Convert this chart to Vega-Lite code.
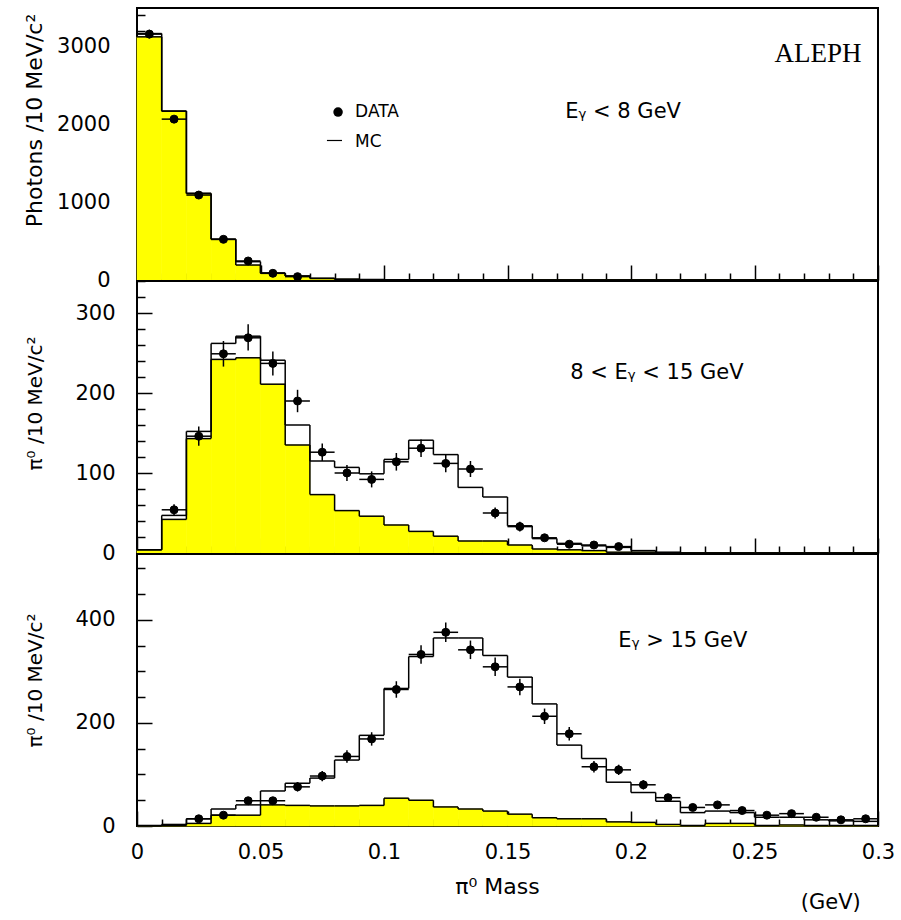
{
  "$schema": "https://vega.github.io/schema/vega-lite/v6.json",
  "padding": {"left": 21, "top": 7, "right": 5, "bottom": 5},
  "background": "white",
  "datasets": {
    "top": [
      {"x0":0,"x1":0.01,"xc":0.005,"bg":3120,"mc":3162,"d":3155,"lo":3099,"hi":3211},
      {"x0":0.01,"x1":0.02,"xc":0.015,"bg":2167,"mc":2167,"d":2064,"lo":2019,"hi":2109},
      {"x0":0.02,"x1":0.03,"xc":0.025,"bg":1111,"mc":1111,"d":1090,"lo":1057,"hi":1123},
      {"x0":0.03,"x1":0.04,"xc":0.035,"bg":522,"mc":522,"d":522,"lo":499,"hi":545},
      {"x0":0.04,"x1":0.05,"xc":0.045,"bg":192,"mc":235,"d":244,"lo":228,"hi":260},
      {"x0":0.05,"x1":0.06,"xc":0.055,"bg":86,"mc":90,"d":86,"lo":77,"hi":95},
      {"x0":0.06,"x1":0.07,"xc":0.065,"bg":51,"mc":51,"d":43,"lo":36,"hi":50},
      {"x0":0.07,"x1":0.08,"xc":0.075,"bg":21,"mc":21},
      {"x0":0.08,"x1":0.09,"xc":0.085,"bg":9,"mc":10},
      {"x0":0.09,"x1":0.1,"xc":0.095,"bg":5,"mc":5},
      {"x0":0.1,"x1":0.11,"xc":0.105,"bg":3,"mc":3},
      {"x0":0.11,"x1":0.12,"xc":0.115,"bg":2,"mc":2},
      {"x0":0.12,"x1":0.13,"xc":0.125,"bg":2,"mc":2},
      {"x0":0.13,"x1":0.14,"xc":0.135,"bg":1,"mc":1},
      {"x0":0.14,"x1":0.15,"xc":0.145,"bg":1,"mc":1},
      {"x0":0.15,"x1":0.16,"xc":0.155,"bg":0,"mc":0},
      {"x0":0.16,"x1":0.17,"xc":0.165,"bg":0,"mc":0},
      {"x0":0.17,"x1":0.18,"xc":0.175,"bg":0,"mc":0},
      {"x0":0.18,"x1":0.19,"xc":0.185,"bg":0,"mc":0},
      {"x0":0.19,"x1":0.2,"xc":0.195,"bg":0,"mc":0},
      {"x0":0.2,"x1":0.21,"xc":0.205,"bg":0,"mc":0},
      {"x0":0.21,"x1":0.22,"xc":0.215,"bg":0,"mc":0},
      {"x0":0.22,"x1":0.23,"xc":0.225,"bg":0,"mc":0},
      {"x0":0.23,"x1":0.24,"xc":0.235,"bg":0,"mc":0},
      {"x0":0.24,"x1":0.25,"xc":0.245,"bg":0,"mc":0},
      {"x0":0.25,"x1":0.26,"xc":0.255,"bg":0,"mc":0},
      {"x0":0.26,"x1":0.27,"xc":0.265,"bg":0,"mc":0},
      {"x0":0.27,"x1":0.28,"xc":0.275,"bg":0,"mc":0},
      {"x0":0.28,"x1":0.29,"xc":0.285,"bg":0,"mc":0},
      {"x0":0.29,"x1":0.3,"xc":0.295,"bg":0,"mc":0}
    ],
    "mid": [
      {"x0":0,"x1":0.01,"xc":0.005,"bg":4,"mc":4},
      {"x0":0.01,"x1":0.02,"xc":0.015,"bg":42,"mc":47,"d":54,"lo":47,"hi":61},
      {"x0":0.02,"x1":0.03,"xc":0.025,"bg":143,"mc":152,"d":146,"lo":134,"hi":158},
      {"x0":0.03,"x1":0.04,"xc":0.035,"bg":242,"mc":262,"d":249,"lo":233,"hi":265},
      {"x0":0.04,"x1":0.05,"xc":0.045,"bg":244,"mc":271,"d":269,"lo":253,"hi":286},
      {"x0":0.05,"x1":0.06,"xc":0.055,"bg":211,"mc":241,"d":237,"lo":222,"hi":252},
      {"x0":0.06,"x1":0.07,"xc":0.065,"bg":135,"mc":160,"d":190,"lo":176,"hi":204},
      {"x0":0.07,"x1":0.08,"xc":0.075,"bg":73,"mc":115,"d":126,"lo":115,"hi":137},
      {"x0":0.08,"x1":0.09,"xc":0.085,"bg":53,"mc":107,"d":100,"lo":90,"hi":110},
      {"x0":0.09,"x1":0.1,"xc":0.095,"bg":46,"mc":99,"d":92,"lo":82,"hi":102},
      {"x0":0.1,"x1":0.11,"xc":0.105,"bg":35,"mc":117,"d":114,"lo":103,"hi":125},
      {"x0":0.11,"x1":0.12,"xc":0.115,"bg":27,"mc":141,"d":131,"lo":120,"hi":142},
      {"x0":0.12,"x1":0.13,"xc":0.125,"bg":21,"mc":123,"d":112,"lo":101,"hi":123},
      {"x0":0.13,"x1":0.14,"xc":0.135,"bg":15,"mc":82,"d":105,"lo":95,"hi":115},
      {"x0":0.14,"x1":0.15,"xc":0.145,"bg":15,"mc":70,"d":50,"lo":43,"hi":57},
      {"x0":0.15,"x1":0.16,"xc":0.155,"bg":10,"mc":34,"d":33,"lo":27,"hi":39},
      {"x0":0.16,"x1":0.17,"xc":0.165,"bg":5,"mc":18,"d":19,"lo":15,"hi":23},
      {"x0":0.17,"x1":0.18,"xc":0.175,"bg":4,"mc":12,"d":11,"lo":8,"hi":14},
      {"x0":0.18,"x1":0.19,"xc":0.185,"bg":3,"mc":9,"d":10,"lo":7,"hi":13},
      {"x0":0.19,"x1":0.2,"xc":0.195,"bg":1,"mc":7,"d":8,"lo":5,"hi":11},
      {"x0":0.2,"x1":0.21,"xc":0.205,"bg":1,"mc":3},
      {"x0":0.21,"x1":0.22,"xc":0.215,"bg":0,"mc":1},
      {"x0":0.22,"x1":0.23,"xc":0.225,"bg":0,"mc":0},
      {"x0":0.23,"x1":0.24,"xc":0.235,"bg":0,"mc":0},
      {"x0":0.24,"x1":0.25,"xc":0.245,"bg":0,"mc":0},
      {"x0":0.25,"x1":0.26,"xc":0.255,"bg":0,"mc":0},
      {"x0":0.26,"x1":0.27,"xc":0.265,"bg":0,"mc":0},
      {"x0":0.27,"x1":0.28,"xc":0.275,"bg":0,"mc":0},
      {"x0":0.28,"x1":0.29,"xc":0.285,"bg":0,"mc":0},
      {"x0":0.29,"x1":0.3,"xc":0.295,"bg":0,"mc":0}
    ],
    "bot": [
      {"x0":0,"x1":0.01,"xc":0.005,"bg":0,"mc":1},
      {"x0":0.01,"x1":0.02,"xc":0.015,"bg":1,"mc":3},
      {"x0":0.02,"x1":0.03,"xc":0.025,"bg":5,"mc":14,"d":14,"lo":10,"hi":18},
      {"x0":0.03,"x1":0.04,"xc":0.035,"bg":21,"mc":33,"d":21,"lo":16,"hi":26},
      {"x0":0.04,"x1":0.05,"xc":0.045,"bg":21,"mc":41,"d":49,"lo":42,"hi":56},
      {"x0":0.05,"x1":0.06,"xc":0.055,"bg":41,"mc":68,"d":49,"lo":42,"hi":56},
      {"x0":0.06,"x1":0.07,"xc":0.065,"bg":40,"mc":83,"d":76,"lo":67,"hi":85},
      {"x0":0.07,"x1":0.08,"xc":0.075,"bg":39,"mc":93,"d":97,"lo":87,"hi":107},
      {"x0":0.08,"x1":0.09,"xc":0.085,"bg":39,"mc":128,"d":135,"lo":123,"hi":147},
      {"x0":0.09,"x1":0.1,"xc":0.095,"bg":40,"mc":176,"d":169,"lo":156,"hi":182},
      {"x0":0.1,"x1":0.11,"xc":0.105,"bg":54,"mc":267,"d":265,"lo":249,"hi":281},
      {"x0":0.11,"x1":0.12,"xc":0.115,"bg":50,"mc":329,"d":333,"lo":315,"hi":351},
      {"x0":0.12,"x1":0.13,"xc":0.125,"bg":37,"mc":365,"d":376,"lo":357,"hi":395},
      {"x0":0.13,"x1":0.14,"xc":0.135,"bg":33,"mc":365,"d":342,"lo":324,"hi":360},
      {"x0":0.14,"x1":0.15,"xc":0.145,"bg":29,"mc":331,"d":309,"lo":291,"hi":327},
      {"x0":0.15,"x1":0.16,"xc":0.155,"bg":23,"mc":289,"d":270,"lo":254,"hi":286},
      {"x0":0.16,"x1":0.17,"xc":0.165,"bg":16,"mc":237,"d":213,"lo":198,"hi":228},
      {"x0":0.17,"x1":0.18,"xc":0.175,"bg":14,"mc":157,"d":179,"lo":166,"hi":192},
      {"x0":0.18,"x1":0.19,"xc":0.185,"bg":14,"mc":131,"d":115,"lo":104,"hi":126},
      {"x0":0.19,"x1":0.2,"xc":0.195,"bg":8,"mc":85,"d":109,"lo":99,"hi":119},
      {"x0":0.2,"x1":0.21,"xc":0.205,"bg":7,"mc":65,"d":80,"lo":71,"hi":89},
      {"x0":0.21,"x1":0.22,"xc":0.215,"bg":3,"mc":48,"d":55,"lo":48,"hi":62},
      {"x0":0.22,"x1":0.23,"xc":0.225,"bg":1,"mc":26,"d":36,"lo":30,"hi":42},
      {"x0":0.23,"x1":0.24,"xc":0.235,"bg":5,"mc":29,"d":41,"lo":35,"hi":47},
      {"x0":0.24,"x1":0.25,"xc":0.245,"bg":5,"mc":26,"d":30,"lo":25,"hi":35},
      {"x0":0.25,"x1":0.26,"xc":0.255,"bg":1,"mc":17,"d":21,"lo":16,"hi":26},
      {"x0":0.26,"x1":0.27,"xc":0.265,"bg":2,"mc":17,"d":24,"lo":19,"hi":29},
      {"x0":0.27,"x1":0.28,"xc":0.275,"bg":1,"mc":12,"d":17,"lo":13,"hi":21},
      {"x0":0.28,"x1":0.29,"xc":0.285,"bg":1,"mc":10,"d":12,"lo":9,"hi":15},
      {"x0":0.29,"x1":0.3,"xc":0.295,"bg":1,"mc":9,"d":14,"lo":10,"hi":18}
    ]
  },
  "spacing": 1,
  "bounds": "flush",
  "title": {"text": "(GeV)", "orient": "bottom", "anchor": "end", "font": "DejaVu Sans", "fontSize": 21, "fontWeight": "normal", "color": "black", "offset": -6, "dx": -35},
  "vconcat": [
    {
      "width": 741, "height": 272,
      "data": {"name": "top"},
      "transform": [{"window": [{"op": "lag", "field": "bg", "as": "bgp"}, {"op": "lag", "field": "mc", "as": "mcp"}], "sort": [{"field": "x0", "order": "ascending"}]}],
      "resolve": {"axis": {"x": "independent", "y": "independent"}},
      "layer": [
        {"mark": {"type": "rect", "fill": "#ffff00", "stroke": "#ffff00", "strokeWidth": 0.6},
         "encoding": {
           "x": {"field": "x0", "type": "quantitative", "scale": {"domain": [0, 0.3], "nice": false, "zero": false},
                 "axis": {"orient": "bottom", "values": [0,0.05,0.1,0.15,0.2,0.25,0.3], "tickSize": -15, "labels": false, "title": null}},
           "x2": {"field": "x1"},
           "y": {"field": "bg", "type": "quantitative", "scale": {"domain": [0, 3490], "nice": false},
                 "axis": {"orient": "left", "values": [0,1000,2000,3000], "tickSize": -15, "format": "d", "labelPadding": 42,
                          "title": "Photons /10 MeV/c²", "titleFontSize": 22, "titleX": -96, "titleY": 112, "titleBaseline": "alphabetic"}},
           "y2": {"datum": 0}
         }},
        {"mark": {"type": "rule", "color": "black", "strokeWidth": 1.5},
         "encoding": {
           "x": {"field": "x0", "type": "quantitative",
                 "axis": {"orient": "bottom", "values": [0.01,0.02,0.03,0.04,0.06,0.07,0.08,0.09,0.11,0.12,0.13,0.14,0.16,0.17,0.18,0.19,0.21,0.22,0.23,0.24,0.26,0.27,0.28,0.29], "tickSize": -7, "labels": false, "title": null}},
           "x2": {"field": "x1"},
           "y": {"field": "bg", "type": "quantitative",
                 "axis": {"orient": "left", "values": [200,400,600,800,1200,1400,1600,1800,2200,2400,2600,2800,3200,3400], "tickSize": -8, "labels": false, "title": null}}}},
        {"mark": {"type": "rule", "color": "black", "strokeWidth": 1.5},
         "encoding": {"x": {"field": "x0", "type": "quantitative", "axis": null}, "y": {"field": "bgp", "type": "quantitative", "axis": null}, "y2": {"field": "bg"}}},
        {"mark": {"type": "rule", "color": "black", "strokeWidth": 1.5},
         "encoding": {"x": {"field": "x0", "type": "quantitative", "axis": null}, "x2": {"field": "x1"}, "y": {"field": "mc", "type": "quantitative", "axis": null}}},
        {"mark": {"type": "rule", "color": "black", "strokeWidth": 1.5},
         "encoding": {"x": {"field": "x0", "type": "quantitative", "axis": null}, "y": {"field": "mcp", "type": "quantitative", "axis": null}, "y2": {"field": "mc"}}},
        {"mark": {"type": "rule", "color": "black", "strokeWidth": 1.5},
         "encoding": {"x": {"field": "xc", "type": "quantitative", "axis": null}, "y": {"field": "lo", "type": "quantitative", "axis": null}, "y2": {"field": "hi"}}},
        {"mark": {"type": "rule", "color": "black", "strokeWidth": 1.5},
         "encoding": {"x": {"field": "x0", "type": "quantitative", "axis": null}, "x2": {"field": "x1"}, "y": {"field": "d", "type": "quantitative", "axis": null}}},
        {"mark": {"type": "point", "filled": true, "color": "black", "stroke": "black", "strokeWidth": 1, "size": 64, "opacity": 1},
         "encoding": {"x": {"field": "xc", "type": "quantitative", "axis": null}, "y": {"field": "d", "type": "quantitative", "axis": null}}},
        {"data": {"values": [{}]},
         "mark": {"type": "point", "filled": true, "color": "black", "size": 90, "opacity": 1},
         "encoding": {"x": {"datum": 0.0814, "axis": null}, "y": {"datum": 2155, "axis": null}}},
        {"data": {"values": [{}]},
         "mark": {"type": "rule", "color": "black", "strokeWidth": 1.2},
         "encoding": {"x": {"datum": 0.0769, "axis": null}, "x2": {"datum": 0.083}, "y": {"datum": 1790, "axis": null}}},
        {"data": {"values": [{"label": "DATA", "yy": 2155}, {"label": "MC", "yy": 1765}]},
         "mark": {"type": "text", "font": "DejaVu Sans", "fontSize": 17, "color": "black", "align": "left", "baseline": "middle"},
         "encoding": {"x": {"datum": 0.0883, "axis": null}, "y": {"field": "yy", "type": "quantitative", "axis": null}, "text": {"field": "label"}}},
        {"data": {"values": [{}]},
         "mark": {"type": "text", "font": "DejaVu Sans", "fontSize": 21, "color": "black", "align": "center", "baseline": "middle"},
         "encoding": {"x": {"datum": 0.1968, "axis": null}, "y": {"datum": 2155, "axis": null}, "text": {"value": "Eᵧ < 8 GeV"}}},
        {"data": {"values": [{}]},
         "mark": {"type": "text", "font": "Liberation Serif", "fontSize": 27, "color": "black", "align": "center", "baseline": "middle"},
         "encoding": {"x": {"datum": 0.2757, "axis": null}, "y": {"datum": 2900, "axis": null}, "text": {"value": "ALEPH"}}}
      ]
    },
    {
      "width": 741, "height": 272,
      "data": {"name": "mid"},
      "transform": [{"window": [{"op": "lag", "field": "bg", "as": "bgp"}, {"op": "lag", "field": "mc", "as": "mcp"}], "sort": [{"field": "x0", "order": "ascending"}]}],
      "resolve": {"axis": {"x": "independent", "y": "independent"}},
      "layer": [
        {"mark": {"type": "rect", "fill": "#ffff00", "stroke": "#ffff00", "strokeWidth": 0.6},
         "encoding": {
           "x": {"field": "x0", "type": "quantitative", "scale": {"domain": [0, 0.3], "nice": false, "zero": false},
                 "axis": {"orient": "bottom", "values": [0,0.05,0.1,0.15,0.2,0.25,0.3], "tickSize": -15, "labels": false, "title": null}},
           "x2": {"field": "x1"},
           "y": {"field": "bg", "type": "quantitative", "scale": {"domain": [0, 340], "nice": false},
                 "axis": {"orient": "left", "values": [0,100,200,300], "tickSize": -15, "format": "d", "labelPadding": 37,
                          "title": "π⁰  /10 MeV/c²", "titleFontSize": 20, "titleX": -96, "titleY": 122, "titleBaseline": "alphabetic"}},
           "y2": {"datum": 0}
         }},
        {"mark": {"type": "rule", "color": "black", "strokeWidth": 1.5},
         "encoding": {
           "x": {"field": "x0", "type": "quantitative",
                 "axis": {"orient": "bottom", "values": [0.01,0.02,0.03,0.04,0.06,0.07,0.08,0.09,0.11,0.12,0.13,0.14,0.16,0.17,0.18,0.19,0.21,0.22,0.23,0.24,0.26,0.27,0.28,0.29], "tickSize": -7, "labels": false, "title": null}},
           "x2": {"field": "x1"},
           "y": {"field": "bg", "type": "quantitative",
                 "axis": {"orient": "left", "values": [20,40,60,80,120,140,160,180,220,240,260,280,320,340], "tickSize": -8, "labels": false, "title": null}}}},
        {"mark": {"type": "rule", "color": "black", "strokeWidth": 1.5},
         "encoding": {"x": {"field": "x0", "type": "quantitative", "axis": null}, "y": {"field": "bgp", "type": "quantitative", "axis": null}, "y2": {"field": "bg"}}},
        {"mark": {"type": "rule", "color": "black", "strokeWidth": 1.5},
         "encoding": {"x": {"field": "x0", "type": "quantitative", "axis": null}, "x2": {"field": "x1"}, "y": {"field": "mc", "type": "quantitative", "axis": null}}},
        {"mark": {"type": "rule", "color": "black", "strokeWidth": 1.5},
         "encoding": {"x": {"field": "x0", "type": "quantitative", "axis": null}, "y": {"field": "mcp", "type": "quantitative", "axis": null}, "y2": {"field": "mc"}}},
        {"mark": {"type": "rule", "color": "black", "strokeWidth": 1.5},
         "encoding": {"x": {"field": "xc", "type": "quantitative", "axis": null}, "y": {"field": "lo", "type": "quantitative", "axis": null}, "y2": {"field": "hi"}}},
        {"mark": {"type": "rule", "color": "black", "strokeWidth": 1.5},
         "encoding": {"x": {"field": "x0", "type": "quantitative", "axis": null}, "x2": {"field": "x1"}, "y": {"field": "d", "type": "quantitative", "axis": null}}},
        {"mark": {"type": "point", "filled": true, "color": "black", "stroke": "black", "strokeWidth": 1, "size": 64, "opacity": 1},
         "encoding": {"x": {"field": "xc", "type": "quantitative", "axis": null}, "y": {"field": "d", "type": "quantitative", "axis": null}}},
        {"data": {"values": [{}]},
         "mark": {"type": "text", "font": "DejaVu Sans", "fontSize": 21, "color": "black", "align": "center", "baseline": "middle"},
         "encoding": {"x": {"datum": 0.2105, "axis": null}, "y": {"datum": 225, "axis": null}, "text": {"value": "8 < Eᵧ < 15 GeV"}}}
      ]
    },
    {
      "width": 741, "height": 272,
      "data": {"name": "bot"},
      "transform": [{"window": [{"op": "lag", "field": "bg", "as": "bgp"}, {"op": "lag", "field": "mc", "as": "mcp"}], "sort": [{"field": "x0", "order": "ascending"}]}],
      "resolve": {"axis": {"x": "independent", "y": "independent"}},
      "layer": [
        {"mark": {"type": "rect", "fill": "#ffff00", "stroke": "#ffff00", "strokeWidth": 0.6},
         "encoding": {
           "x": {"field": "x0", "type": "quantitative", "scale": {"domain": [0, 0.3], "nice": false, "zero": false},
                 "axis": {"orient": "bottom", "values": [0,0.05,0.1,0.15,0.2,0.25,0.3], "tickSize": -15, "format": "~g", "labelPadding": 30,
                          "title": "π⁰  Mass", "titleX": 360, "titleY": 67, "titleBaseline": "alphabetic", "titleFontSize": 22}},
           "x2": {"field": "x1"},
           "y": {"field": "bg", "type": "quantitative", "scale": {"domain": [0, 528], "nice": false},
                 "axis": {"orient": "left", "values": [0,200,400], "tickSize": -15, "format": "d", "labelPadding": 37,
                          "title": "π⁰  /10 MeV/c²", "titleFontSize": 20, "titleX": -96, "titleY": 126, "titleBaseline": "alphabetic"}},
           "y2": {"datum": 0}
         }},
        {"mark": {"type": "rule", "color": "black", "strokeWidth": 1.5},
         "encoding": {
           "x": {"field": "x0", "type": "quantitative",
                 "axis": {"orient": "bottom", "values": [0.01,0.02,0.03,0.04,0.06,0.07,0.08,0.09,0.11,0.12,0.13,0.14,0.16,0.17,0.18,0.19,0.21,0.22,0.23,0.24,0.26,0.27,0.28,0.29], "tickSize": -7, "labels": false, "title": null}},
           "x2": {"field": "x1"},
           "y": {"field": "bg", "type": "quantitative",
                 "axis": {"orient": "left", "values": [50,100,150,250,300,350,450,500], "tickSize": -8, "labels": false, "title": null}}}},
        {"mark": {"type": "rule", "color": "black", "strokeWidth": 1.5},
         "encoding": {"x": {"field": "x0", "type": "quantitative", "axis": null}, "y": {"field": "bgp", "type": "quantitative", "axis": null}, "y2": {"field": "bg"}}},
        {"mark": {"type": "rule", "color": "black", "strokeWidth": 1.5},
         "encoding": {"x": {"field": "x0", "type": "quantitative", "axis": null}, "x2": {"field": "x1"}, "y": {"field": "mc", "type": "quantitative", "axis": null}}},
        {"mark": {"type": "rule", "color": "black", "strokeWidth": 1.5},
         "encoding": {"x": {"field": "x0", "type": "quantitative", "axis": null}, "y": {"field": "mcp", "type": "quantitative", "axis": null}, "y2": {"field": "mc"}}},
        {"mark": {"type": "rule", "color": "black", "strokeWidth": 1.5},
         "encoding": {"x": {"field": "xc", "type": "quantitative", "axis": null}, "y": {"field": "lo", "type": "quantitative", "axis": null}, "y2": {"field": "hi"}}},
        {"mark": {"type": "rule", "color": "black", "strokeWidth": 1.5},
         "encoding": {"x": {"field": "x0", "type": "quantitative", "axis": null}, "x2": {"field": "x1"}, "y": {"field": "d", "type": "quantitative", "axis": null}}},
        {"mark": {"type": "point", "filled": true, "color": "black", "stroke": "black", "strokeWidth": 1, "size": 64, "opacity": 1},
         "encoding": {"x": {"field": "xc", "type": "quantitative", "axis": null}, "y": {"field": "d", "type": "quantitative", "axis": null}}},
        {"data": {"values": [{}]},
         "mark": {"type": "text", "font": "DejaVu Sans", "fontSize": 21, "color": "black", "align": "center", "baseline": "middle"},
         "encoding": {"x": {"datum": 0.221, "axis": null}, "y": {"datum": 359, "axis": null}, "text": {"value": "Eᵧ > 15 GeV"}}}
      ]
    }
  ],
  "config": {
    "view": {"stroke": "black", "strokeWidth": 2},
    "axis": {"domain": false, "grid": false, "tickColor": "black", "tickWidth": 1.5, "labelColor": "black",
             "labelFont": "DejaVu Sans", "labelFontSize": 21, "titleFont": "DejaVu Sans", "titleFontSize": 21,
             "titleFontWeight": "normal", "titleColor": "black", "labelOverlap": false, "labelFlush": false}
  }
}
